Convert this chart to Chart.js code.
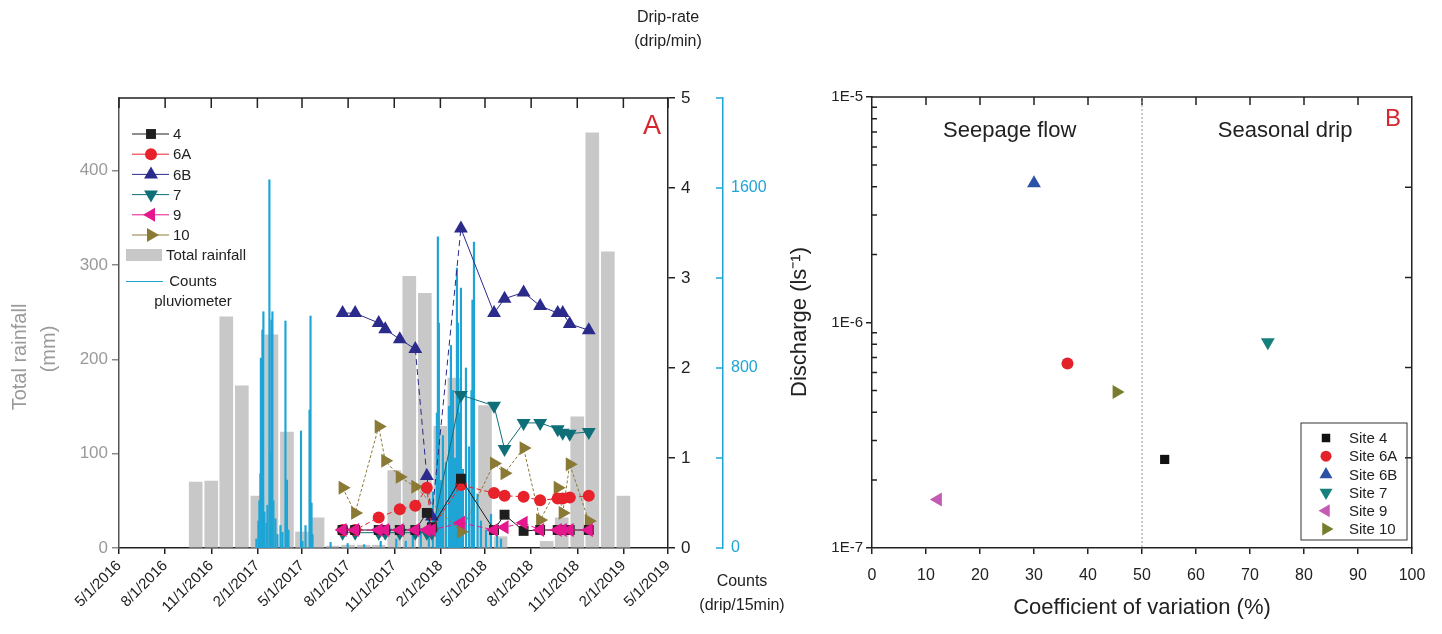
<!DOCTYPE html>
<html>
<head>
<meta charset="utf-8">
<script src="https://cdn.jsdelivr.net/npm/chart.js@4.4.1/dist/chart.umd.min.js"></script>
<style>
  html, body { margin: 0; padding: 0; background: #fff; }
  body { width: 1442px; height: 634px; position: relative; overflow: hidden; }
  #wrapA { position: absolute; left: 0; top: 0; width: 790px; height: 634px; }
  #wrapB { position: absolute; left: 780px; top: 0; width: 662px; height: 634px; }
</style>
</head>
<body>
<div id="wrapA"><canvas id="chartA" width="790" height="634"></canvas></div>
<div id="wrapB"><canvas id="chartB" width="662" height="634"></canvas></div>
<script>
// ---- panel A data ----
const tickDates = ['5/1/2016','8/1/2016','11/1/2016','2/1/2017','5/1/2017','8/1/2017','11/1/2017',
  '2/1/2018','5/1/2018','8/1/2018','11/1/2018','2/1/2019','5/1/2019'];
const rainTicks = [0, 100, 200, 300, 400];
const dripTicks = [0, 1, 2, 3, 4, 5];
const countTicks = [0, 400, 800, 1200, 1600, 2000];

// monthly total rainfall (mm)
const rainMonths = ['10/1/2016','11/1/2016','12/1/2016','1/1/2017','2/1/2017','3/1/2017','4/1/2017',
  '5/1/2017','6/1/2017','7/1/2017','8/1/2017','9/1/2017','10/1/2017','11/1/2017','12/1/2017',
  '1/1/2018','2/1/2018','3/1/2018','5/1/2018','6/1/2018','9/1/2018','10/1/2018','11/1/2018',
  '12/1/2018','1/1/2019','2/1/2019'];
const rainTotal = [70, 71, 245, 172, 55, 226, 123, 17, 32, 2, 3, 3, 3, 82, 288, 270, 129, 180,
  151, 12, 7, 32, 139, 440, 314, 55];

// pluviometer counts (drip/15min), main peaks
const countDates = ['1/30/2017','2/3/2017','2/5/2017','2/7/2017','2/8/2017','2/10/2017','2/11/2017',
  '2/13/2017','2/15/2017','2/19/2017','2/21/2017','2/25/2017','2/27/2017','3/1/2017','3/3/2017',
  '3/5/2017','3/9/2017','3/13/2017','3/19/2017','3/23/2017','3/29/2017','4/1/2017','4/4/2017',
  '4/29/2017','5/2/2017','5/8/2017','5/16/2017','5/18/2017','5/20/2017','5/22/2017',
  '6/27/2017','7/31/2017','9/2/2017','10/5/2017','11/5/2017',
  '11/24/2017','12/8/2017','12/24/2017','1/9/2018','1/17/2018','1/25/2018','1/27/2018','1/29/2018',
  '2/2/2018','2/6/2018','2/12/2018','2/18/2018','2/22/2018','2/26/2018','3/2/2018','3/6/2018',
  '3/8/2018','3/10/2018','3/14/2018','3/18/2018','3/24/2018','3/30/2018','4/4/2018','4/6/2018',
  '4/9/2018','4/16/2018','4/23/2018','5/3/2018','5/13/2018','5/25/2018','6/2/2018'];
const countValues = [40, 120, 210, 330, 844, 520, 969, 1050, 160, 110, 190, 1636, 420, 1013, 1050,
  210, 130, 60, 100, 70, 1009, 302, 80, 520, 30, 100, 613, 1031, 200, 60,
  25, 20, 15, 30, 40,
  30, 60, 80, 150, 250, 600, 1383, 1000, 300, 500, 380, 630, 900, 700, 400, 1244,
  1000, 600, 1155, 350, 800, 450, 700, 1102, 1360, 240, 120, 80, 150, 60, 40];

// drip-rate sampling (drip/min)
const sampleDates = ['7/21/2017','8/15/2017','10/1/2017','10/14/2017','11/12/2017','12/13/2017',
  '1/5/2018','1/15/2018','3/14/2018','5/19/2018','6/9/2018','7/17/2018','8/19/2018','9/23/2018',
  '10/3/2018','10/17/2018','11/24/2018'];
const drip4  = [0.2, 0.2, 0.2, 0.2, 0.2, 0.2, 0.39, 0.23, 0.77, 0.2, 0.37, 0.19, 0.2, 0.2, 0.2, 0.2, 0.2];
const drip6A = [0.2, 0.2, 0.34, null, 0.43, 0.47, 0.67, 0.22, 0.7, 0.61, 0.58, 0.57, 0.53, 0.55, 0.55, 0.56, 0.58];
const drip6B = [2.61, 2.61, 2.5, 2.43, 2.32, 2.21, 0.8, 0.35, 3.55, 2.61, 2.77, 2.84, 2.69, 2.61, 2.61, 2.49, 2.42];
const drip7  = [0.17, 0.17, 0.17, 0.17, 0.17, 0.17, 0.17, 0.17, 1.7, 1.58, 1.1, 1.39, 1.39, 1.32, 1.28, 1.27, 1.29];
const drip9  = [0.2, 0.2, 0.2, 0.2, 0.2, 0.2, 0.2, 0.2, 0.28, 0.2, 0.23, 0.28, 0.2, 0.2, 0.2, 0.2, 0.2];
const drip10 = [0.67, 0.39, 1.35, 0.97, 0.79, 0.68, null, null, 0.18, 0.94, 0.83, 1.11, 0.31, 0.67, 0.39, 0.93, 0.3];

// ---- panel B data ----
const siteNames = ['Site 4', 'Site 6A', 'Site 6B', 'Site 7', 'Site 9', 'Site 10'];
const siteCV = [54.2, 36.2, 30.0, 73.3, 12.2, 45.3];
const siteDischarge = [2.47e-7, 6.58e-7, 4.14e-6, 8.17e-7, 1.64e-7, 4.92e-7];
const logTicks = [1e-7, 1e-6, 1e-5];
const logTickLabels = ['1E-7', '1E-6', '1E-5'];

const FONT = '"Liberation Sans", Arial, Helvetica, sans-serif';
Chart.defaults.font.family = FONT;
Chart.defaults.color = '#222';

function toMs(s) {
  const [m, d, y] = s.split('/').map(Number);
  return Date.UTC(y, m - 1, d);
}

function text(ctx, str, x, y, size, color, align, rot) {
  ctx.save();
  ctx.font = size + 'px ' + FONT;
  ctx.fillStyle = color;
  ctx.textAlign = align || 'center';
  ctx.textBaseline = 'middle';
  ctx.translate(x, y);
  if (rot) ctx.rotate(rot);
  ctx.fillText(str, 0, 0);
  ctx.restore();
}

// series styles for panel A
const seriesNames = ['4', '6A', '6B', '7', '9', '10'];
const seriesData = [drip4, drip6A, drip6B, drip7, drip9, drip10];
const seriesColor = ['#1e1e1e', '#e8222b', '#2b2b8c', '#0f6f78', '#e5178e', '#8b7a36'];
const seriesStyle = ['rect', 'circle', 'triangle', 'triangle', 'triangle', 'triangle'];
const seriesRot = [0, 0, 0, 180, -90, 90];
const seriesRadius = [7, 6, 8, 8, 8, 8];
const seriesDash = [[], [5, 3], [], [], [5, 3], [3, 2]];

const lineSets = seriesNames.map((name, k) => ({
  type: 'line',
  label: name,
  data: sampleDates.map((d, i) => ({ x: toMs(d), y: seriesData[k][i] })),
  yAxisID: 'yDrip',
  borderColor: seriesColor[k],
  backgroundColor: seriesColor[k],
  borderWidth: 1,
  borderDash: seriesDash[k],
  pointStyle: seriesStyle[k],
  rotation: seriesRot[k],
  pointRadius: seriesRadius[k],
  pointBorderWidth: 0,
  spanGaps: true,
  order: name === '9' ? 0 : 1,
  segment: name === '6B' ? { borderDash: c => (c.p0DataIndex >= 5 && c.p0DataIndex <= 7) ? [6, 4] : undefined } : undefined
}));

const panelAExtras = {
  id: 'panelAExtras',
  afterDraw(chart) {
    const ctx = chart.ctx;
    const area = chart.chartArea;
    const x = chart.scales.x;
    const yCount = chart.scales.yCount;
    ctx.save();
    // top frame with inward ticks
    ctx.strokeStyle = '#222';
    ctx.lineWidth = 1.5;
    ctx.beginPath();
    ctx.moveTo(area.left, area.top);
    ctx.lineTo(area.right, area.top);
    x.ticks.forEach(t => {
      const px = x.getPixelForValue(t.value);
      ctx.moveTo(px, area.top);
      ctx.lineTo(px, area.top + 10);
    });
    ctx.stroke();
    // counts axis ticks pointing left
    ctx.strokeStyle = '#1ea5d6';
    ctx.beginPath();
    countTicks.forEach(v => {
      const py = yCount.getPixelForValue(v);
      ctx.moveTo(yCount.left - 7, py);
      ctx.lineTo(yCount.left, py);
    });
    ctx.stroke();

    // legend
    ctx.font = '15px ' + FONT;
    ctx.textBaseline = 'middle';
    ctx.textAlign = 'left';
    seriesNames.forEach((name, k) => {
      const ly = 134 + k * 20.2;
      ctx.strokeStyle = seriesColor[k];
      ctx.lineWidth = 1;
      ctx.beginPath();
      ctx.moveTo(132, ly);
      ctx.lineTo(169, ly);
      ctx.stroke();
      ctx.fillStyle = seriesColor[k];
      Chart.helpers.drawPoint(ctx, { pointStyle: seriesStyle[k], rotation: seriesRot[k], radius: seriesRadius[k], borderWidth: 0 }, 151, ly);
      ctx.fillStyle = '#222';
      ctx.fillText(name, 173, ly + 1);
    });
    ctx.fillStyle = '#c8c8c8';
    ctx.fillRect(126, 249, 36, 12);
    ctx.fillStyle = '#222';
    ctx.fillText('Total rainfall', 166, 256);
    ctx.strokeStyle = '#1ea5d6';
    ctx.lineWidth = 1.2;
    ctx.beginPath();
    ctx.moveTo(126, 281.5);
    ctx.lineTo(163, 281.5);
    ctx.stroke();
    ctx.restore();
    text(ctx, 'Counts', 193, 282, 15, '#222');
    text(ctx, 'pluviometer', 193, 302, 15, '#222');

    // titles
    text(ctx, 'A', 652, 127, 27, '#d8262e');
    text(ctx, 'Total rainfall', 20, 357, 20, '#9a9a9a', 'center', -Math.PI / 2);
    text(ctx, '(mm)', 49, 349, 20, '#9a9a9a', 'center', -Math.PI / 2);
    text(ctx, 'Drip-rate', 668, 18, 16, '#222');
    text(ctx, '(drip/min)', 668, 42, 16, '#222');
    text(ctx, 'Counts', 742, 582, 16, '#222');
    text(ctx, '(drip/15min)', 742, 606, 16, '#222');
  }
};

new Chart(document.getElementById('chartA'), {
  type: 'bar',
  data: {
    datasets: [
      {
        type: 'bar',
        label: 'Total rainfall',
        data: rainMonths.map((d, i) => ({ x: toMs(d), y: rainTotal[i] })),
        yAxisID: 'yRain',
        backgroundColor: '#c8c8c8',
        barThickness: 13,
        grouped: false,
        order: 3
      },
      {
        type: 'bar',
        label: 'Counts pluviometer',
        data: countDates.map((d, i) => ({ x: toMs(d), y: countValues[i] })),
        yAxisID: 'yCount',
        backgroundColor: '#1ea5d6',
        barThickness: 1.5,
        grouped: false,
        order: 2
      },
      ...lineSets
    ]
  },
  options: {
    responsive: false,
    animation: false,
    layout: { padding: { top: 98, left: 0, right: 0, bottom: 0 } },
    plugins: { legend: { display: false }, tooltip: { enabled: false } },
    scales: {
      x: {
        type: 'linear',
        offset: false,
        min: toMs('5/1/2016'),
        max: toMs('5/1/2019'),
        afterBuildTicks: s => { s.ticks = tickDates.map(d => ({ value: toMs(d) })); },
        ticks: {
          autoSkip: false, minRotation: 45, maxRotation: 45,
          callback: (v, i) => tickDates[i],
          font: { size: 15 }, color: '#222', padding: 3
        },
        grid: { offset: false, drawOnChartArea: false, tickLength: 6, color: '#222', lineWidth: 1.5 },
        border: { color: '#222', width: 1.5 },
        afterFit: s => { s.height = 86; }
      },
      yRain: {
        position: 'left',
        min: 0, max: 477,
        afterBuildTicks: s => { s.ticks = rainTicks.map(v => ({ value: v })); },
        ticks: { color: '#9a9a9a', font: { size: 17 }, padding: 4 },
        grid: { drawOnChartArea: false, tickLength: 7, color: '#8a8a8a', lineWidth: 1.5 },
        border: { color: '#555', width: 1.5 },
        afterFit: s => { s.width = 119; }
      },
      yDrip: {
        position: 'right',
        weight: 0,
        min: 0, max: 5,
        afterBuildTicks: s => { s.ticks = dripTicks.map(v => ({ value: v })); },
        ticks: { color: '#222', font: { size: 17 }, padding: 6 },
        grid: { drawOnChartArea: false, tickLength: 7, color: '#222', lineWidth: 1.5 },
        border: { color: '#222', width: 1.5 },
        afterFit: s => { s.width = 55; }
      },
      yCount: {
        position: 'right',
        weight: 1,
        min: 0, max: 2000,
        afterBuildTicks: s => { s.ticks = countTicks.map(v => ({ value: v })); },
        ticks: {
          color: '#1ea5d6', font: { size: 16 }, padding: 8, autoSkip: false,
          callback: v => (v % 800 === 0 ? String(v) : '')
        },
        grid: { drawOnChartArea: false, drawTicks: false },
        border: { color: '#1ea5d6', width: 1.5 },
        afterFit: s => { s.width = 67; }
      }
    }
  },
  plugins: [panelAExtras]
});

// ---- panel B ----
const siteColor = ['#111111', '#e3212b', '#2c52a6', '#16807d', '#c45ab4', '#777d2c'];
const siteStyle = ['rect', 'circle', 'triangle', 'triangle', 'triangle', 'triangle'];
const siteRot = [0, 0, 0, 180, -90, 90];
const siteRadius = [6.5, 6, 8, 8, 8, 8];

const panelBExtras = {
  id: 'panelBExtras',
  afterDraw(chart) {
    const ctx = chart.ctx;
    const area = chart.chartArea;
    const x = chart.scales.x;
    const y = chart.scales.y;
    const yr = chart.scales.yr;
    ctx.save();
    ctx.strokeStyle = '#222';
    ctx.lineWidth = 1.5;
    ctx.beginPath();
    ctx.moveTo(area.left, area.top);
    ctx.lineTo(area.right, area.top);
    for (let v = 10; v < 100; v += 10) {
      const px = x.getPixelForValue(v);
      ctx.moveTo(px, area.top);
      ctx.lineTo(px, area.top + 8);
    }
    [-7, -6].forEach(e => {
      for (let k = 2; k <= 9; k++) {
        const py = y.getPixelForValue(k * Math.pow(10, e));
        ctx.moveTo(area.left, py);
        ctx.lineTo(area.left + 5, py);
      }
    });
    [1, 2, 3, 4].forEach(v => {
      const py = yr.getPixelForValue(v);
      ctx.moveTo(area.right - 7, py);
      ctx.lineTo(area.right, py);
    });
    ctx.stroke();

    // divider at CV = 50 %
    ctx.strokeStyle = '#9a9a9a';
    ctx.lineWidth = 1;
    ctx.setLineDash([2, 2]);
    ctx.beginPath();
    const px50 = x.getPixelForValue(50);
    ctx.moveTo(px50, area.top);
    ctx.lineTo(px50, area.bottom);
    ctx.stroke();
    ctx.setLineDash([]);

    // legend box
    const bx = area.right - 111, by = 423, bw = 106, bh = 117;
    ctx.strokeStyle = '#333';
    ctx.lineWidth = 1;
    ctx.strokeRect(bx, by, bw, bh);
    ctx.font = '15px ' + FONT;
    ctx.textAlign = 'left';
    ctx.textBaseline = 'middle';
    siteNames.forEach((name, k) => {
      const ly = by + 15 + k * 18.2;
      ctx.fillStyle = siteColor[k];
      Chart.helpers.drawPoint(ctx, { pointStyle: siteStyle[k], rotation: siteRot[k], radius: siteRadius[k] - 0.5, borderWidth: 0 }, bx + 25, ly);
      ctx.fillStyle = '#222';
      ctx.fillText(name, bx + 48, ly + 1);
    });
    ctx.restore();

    text(ctx, 'Seepage flow', x.getPixelForValue(25.5), 131, 22, '#222');
    text(ctx, 'Seasonal drip', x.getPixelForValue(76.5), 131, 22, '#222');
    text(ctx, 'B', x.getPixelForValue(96.5), 119, 24, '#d8262e');
    text(ctx, 'Coefficient of variation (%)', x.getPixelForValue(50), 608, 22, '#222');
    text(ctx, 'Discharge (ls\u207B\u00B9)', 20, 322, 22, '#222', 'center', -Math.PI / 2);
  }
};

new Chart(document.getElementById('chartB'), {
  type: 'scatter',
  data: {
    datasets: siteNames.map((name, k) => ({
      label: name,
      data: [{ x: siteCV[k], y: siteDischarge[k] }],
      backgroundColor: siteColor[k],
      borderWidth: 0,
      pointStyle: siteStyle[k],
      rotation: siteRot[k],
      pointRadius: siteRadius[k]
    }))
  },
  options: {
    responsive: false,
    animation: false,
    layout: { padding: { top: 97, left: 0, right: 0, bottom: 0 } },
    plugins: { legend: { display: false }, tooltip: { enabled: false } },
    scales: {
      x: {
        type: 'linear',
        min: 0, max: 100,
        ticks: { stepSize: 10, font: { size: 16 }, color: '#222', padding: 12 },
        grid: { drawOnChartArea: false, tickLength: 6, color: '#222', lineWidth: 1.5 },
        border: { color: '#222', width: 1.5 },
        afterFit: s => { s.height = 86; }
      },
      y: {
        type: 'logarithmic',
        min: 1e-7, max: 1e-5,
        afterBuildTicks: s => { s.ticks = logTicks.map(v => ({ value: v })); },
        ticks: { callback: (v, i) => logTickLabels[i], font: { size: 15 }, color: '#222', padding: 3 },
        grid: { drawOnChartArea: false, tickLength: 6, color: '#222', lineWidth: 1.5 },
        border: { color: '#222', width: 1.5 },
        afterFit: s => { s.width = 92; }
      },
      yr: {
        position: 'right',
        min: 0, max: 5,
        ticks: { display: false },
        grid: { drawOnChartArea: false, drawTicks: false },
        border: { color: '#222', width: 1.5 },
        afterFit: s => { s.width = 30; }
      }
    }
  },
  plugins: [panelBExtras]
});
</script>
</body>
</html>
